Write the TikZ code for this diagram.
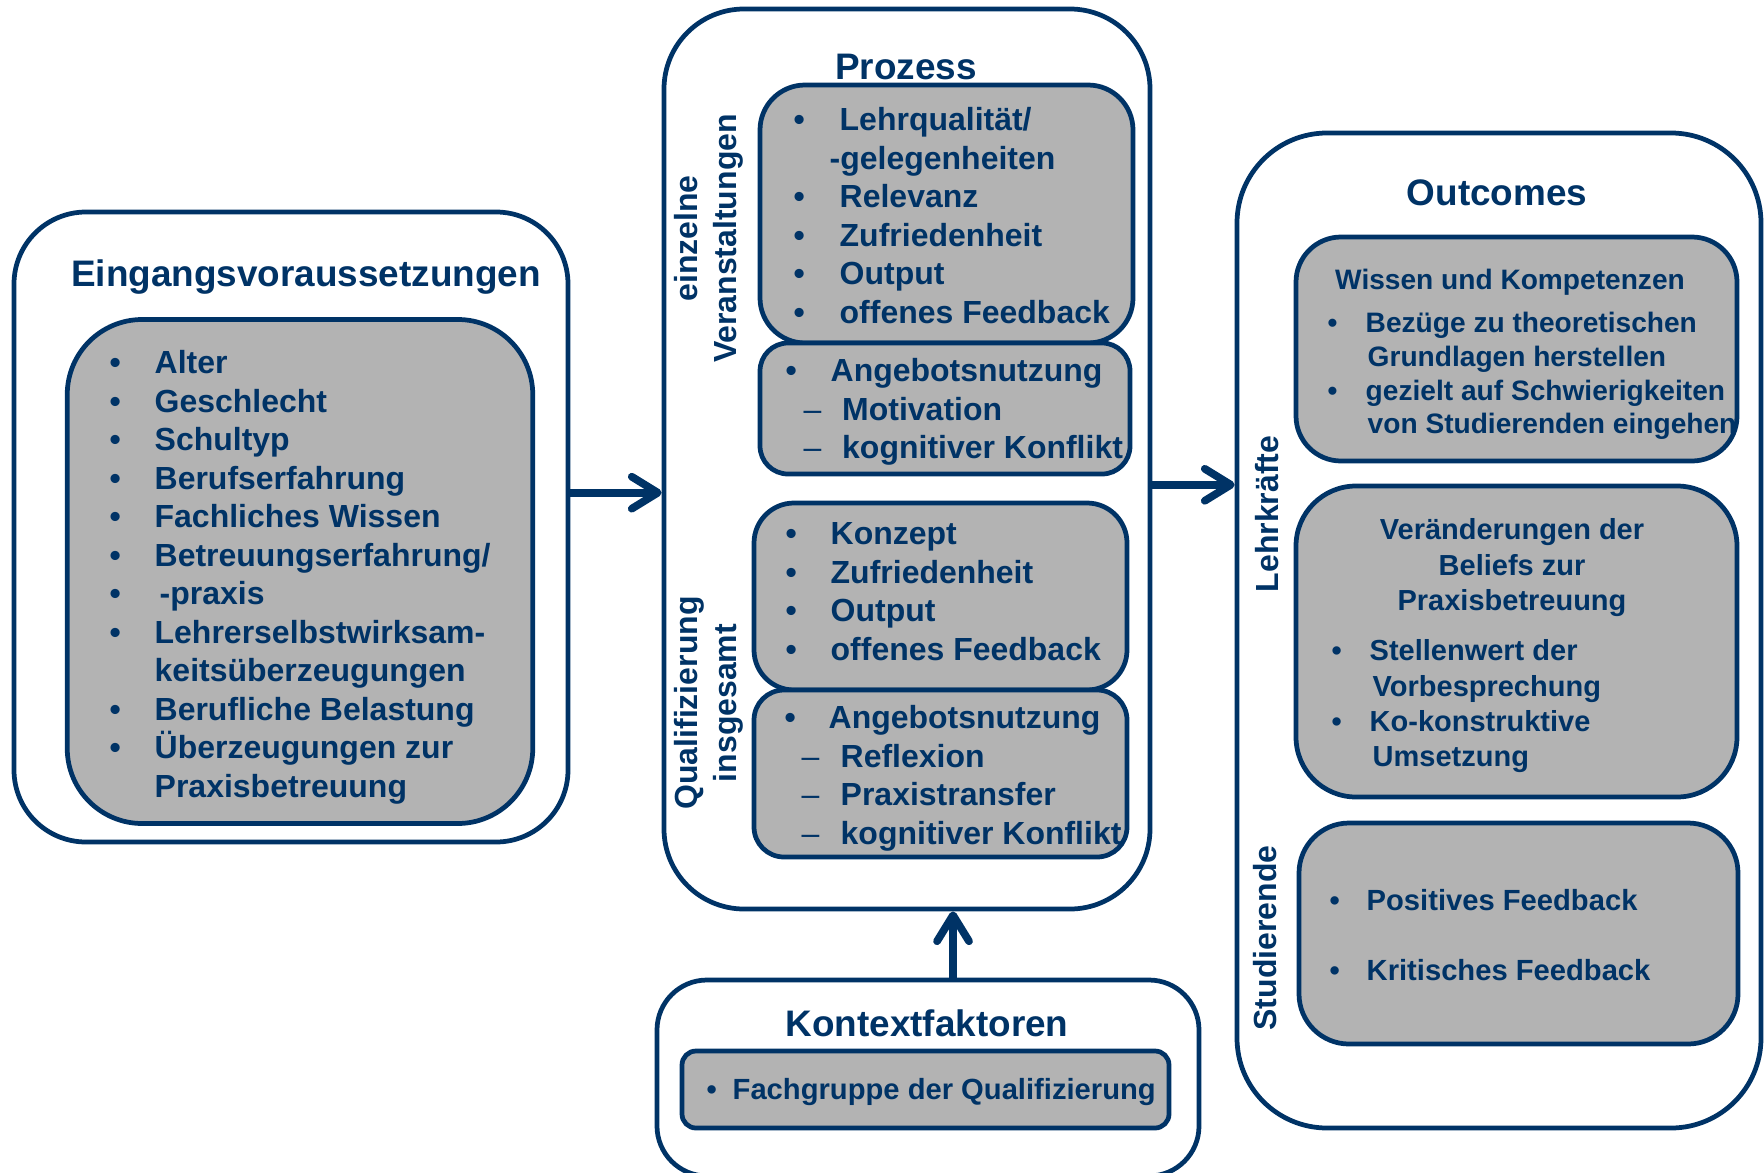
\documentclass[tikz,border=0pt]{standalone}
\usepackage{fontspec}
\setmainfont{Liberation Sans}
\usetikzlibrary{arrows.meta,positioning}
\definecolor{navy}{RGB}{0,51,102}
\definecolor{boxgray}{RGB}{179,179,179}
\newcommand{\bul}[1]{\makebox[#1][l]{•}}
\newcommand{\dsh}[2]{\hspace*{#1}\makebox[#2][l]{\mdseries –}}

\begin{document}
\begin{tikzpicture}[>={Straight Barb[length=2.6mm,width=3.2mm,round]}, text=navy,
      outer/.style={draw=navy, line width=1.35pt, fill=white, inner sep=0pt},
      inner/.style={draw=navy, line width=1.35pt, fill=boxgray, inner sep=0pt},
      title/.style={anchor=base, inner sep=0pt, font=\fontsize{10.5}{12.6}\selectfont\bfseries},
      lst/.style={align=left, anchor=north west, inner sep=0pt, font=\fontsize{9.1}{10.95}\selectfont\bfseries},
      side/.style={rotate=90, align=center, inner sep=0pt, font=\fontsize{9.1}{11}\selectfont\bfseries},
      arr/.style={->, draw=navy, line width=2.2pt}]
      \useasboundingbox (0,0) rectangle (17.64,-11.72);

      % Eingangsvoraussetzungen
      \node[outer, rounded corners=7.2mm, minimum width=5.54cm, minimum height=6.30cm] (ein) at (2.91,-5.27) {};
      \node[inner, rounded corners=7.5mm, minimum width=4.655cm, minimum height=5.04cm] (eini) at (3.00,-5.715) {};
      \node[title] (tein) at (3.06,-2.86) {Eingangsvoraussetzungen};
      \node[lst] (einl) at (1.09,-3.50) {\bul{4.5mm}Alter\\ \bul{4.5mm}Geschlecht\\ \bul{4.5mm}Schultyp\\
            \bul{4.5mm}Berufserfahrung\\ \bul{4.5mm}Fachliches Wissen\\ \bul{4.5mm}Betreuungserfahrung/\\
            \bul{4.5mm}\hspace{0.5mm}-praxis\\ \bul{4.5mm}Lehrerselbstwirksam-\\ \hspace*{4.5mm}keitsüberzeugungen\\
            \bul{4.5mm}Berufliche Belastung\\ \bul{4.5mm}Überzeugungen zur\\ \hspace*{4.5mm}Praxisbetreuung};

      % Prozess
      \node[outer, rounded corners=8mm, minimum width=4.86cm, minimum height=9.0cm] (proz) at (9.07,-4.59) {};
      \node[title] (tpro) at (9.06,-0.79) {Prozess};
      \node[inner, rounded corners=4.5mm, minimum width=3.73cm, minimum height=2.58cm] (pa) at (9.465,-2.14) {};
      \node[inner, rounded corners=2.8mm, minimum width=3.70cm, minimum height=1.31cm] (pb) at (9.45,-4.085) {};
      \node[inner, rounded corners=4mm, minimum width=3.73cm, minimum height=1.87cm] (pc) at (9.405,-5.965) {};
      \node[inner, rounded corners=3mm, minimum width=3.73cm, minimum height=1.67cm] (pd) at (9.405,-7.735) {};
      \node[lst] (pal) at (7.93,-1.07) {\bul{4.6mm}Lehrqualität/\\ \hspace*{3.6mm}-gelegenheiten\\ \bul{4.6mm}Relevanz\\
            \bul{4.6mm}Zufriedenheit\\ \bul{4.6mm}Output\\ \bul{4.6mm}offenes Feedback};
      \node[lst] (pbl) at (7.85,-3.58) {\bul{4.5mm}Angebotsnutzung\\ \dsh{1.8mm}{3.85mm}Motivation\\
            \dsh{1.8mm}{3.85mm}kognitiver Konflikt};
      \node[lst] (pcl) at (7.85,-5.22) {\bul{4.5mm}Konzept\\ \bul{4.5mm}Zufriedenheit\\ \bul{4.5mm}Output\\
            \bul{4.5mm}offenes Feedback};
      \node[lst] (pdl) at (7.84,-7.05) {\bul{4.4mm}Angebotsnutzung\\ \dsh{1.7mm}{3.9mm}Reflexion\\
            \dsh{1.7mm}{3.9mm}Praxistransfer\\ \dsh{1.7mm}{3.9mm}kognitiver Konflikt};
      \node[side] (lein) at (7.09,-2.385) {einzelne\\Veranstaltungen};
      \node[side] (lqua) at (7.09,-7.03) {Qualifizierung\\insgesamt};

      % Outcomes
      \node[outer, rounded corners=9mm, minimum width=5.24cm, minimum height=9.95cm] (out) at (14.99,-6.305) {};
      \node[title] (tout) at (14.97,-2.05) {Outcomes};
      \node[inner, rounded corners=4.5mm, minimum width=4.41cm, minimum height=2.24cm] (ow) at (15.165,-3.49) {};
      \node[inner, rounded corners=6mm, minimum width=4.41cm, minimum height=3.11cm] (ov) at (15.165,-6.415) {};
      \node[inner, rounded corners=5mm, minimum width=4.39cm, minimum height=2.21cm] (os) at (15.185,-9.335) {};
      \node[anchor=base, inner sep=0pt, font=\fontsize{8}{9.6}\selectfont\bfseries] (tow) at (15.10,-2.89) {Wissen und Kompetenzen};
      \node[lst, font=\fontsize{8}{9.6}\selectfont\bfseries] (owl) at (13.27,-3.116) {\bul{3.8mm}Bezüge zu theoretischen\\
            \hspace*{4mm}Grundlagen herstellen\\ \bul{3.8mm}gezielt auf Schwierigkeiten\\ \hspace*{4mm}von Studierenden eingehen};
      \node[anchor=north, align=center, inner sep=0pt, font=\fontsize{8.25}{10.1}\selectfont\bfseries] (tov) at (15.12,-5.18)
            {Veränderungen der\\Beliefs zur\\Praxisbetreuung};
      \node[lst, font=\fontsize{8.25}{10.05}\selectfont\bfseries] (ovl) at (13.31,-6.39) {\bul{3.8mm}Stellenwert der\\
            \hspace*{4.1mm}Vorbesprechung\\ \bul{3.8mm}Ko-konstruktive\\ \hspace*{4.1mm}Umsetzung};
      \node[lst, font=\fontsize{8.3}{19.9}\selectfont\bfseries] (osl) at (13.29,-8.89) {\bul{3.7mm}Positives Feedback\\
            \bul{3.7mm}Kritisches Feedback};
      \node[side] (llk) at (12.67,-5.14) {Lehrkräfte};
      \node[side] (lst) at (12.65,-9.38) {Studierende};

      % Kontextfaktoren
      \node[outer, rounded corners=5mm, minimum width=5.42cm, minimum height=1.96cm] (kon) at (9.28,-10.78) {};
      \node[inner, rounded corners=1.4mm, minimum width=4.87cm, minimum height=0.77cm] (koni) at (9.255,-10.895) {};
      \node[title] (tkon) at (9.27,-10.36) {Kontextfaktoren};
      \node[lst, font=\fontsize{8.3}{10}\selectfont\bfseries] (konl) at (7.06,-10.78) {\bul{2.6mm}Fachgruppe der Qualifizierung};

      \draw[arr] (ein.7) -- (ein.7 -| proz.west);
      \draw[arr] (proz.-6.3) -- (proz.-6.3 -| out.west);
      \draw[arr] (kon.76.8) -- (kon.76.8 |- proz.south);
    \end{tikzpicture}
\end{document}
